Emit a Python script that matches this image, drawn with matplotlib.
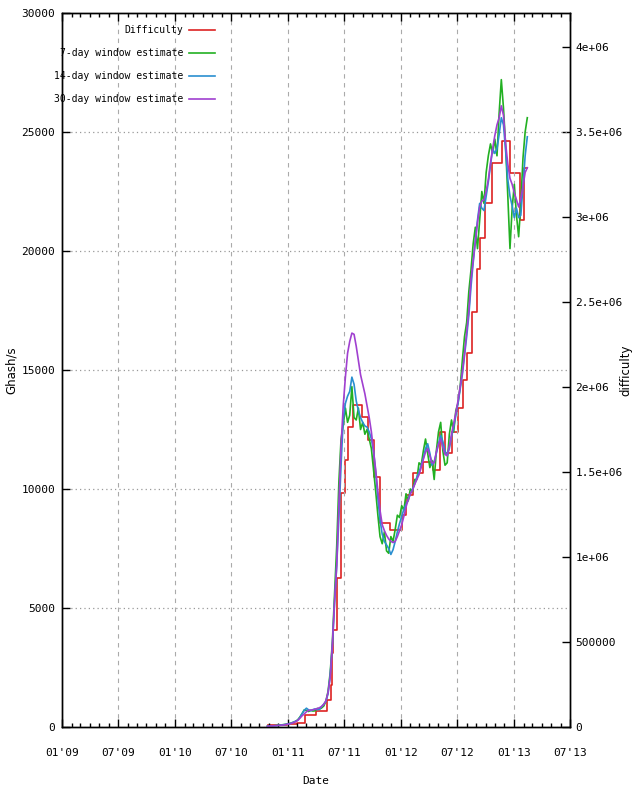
import pandas as pd
import matplotlib
matplotlib.use('Agg')
import matplotlib.pyplot as plt
import matplotlib.dates as mdates

# ---------------- data ----------------
# Difficulty (step function, right axis)
diff_dates = ['2010-10-29', '2010-11-30', '2010-12-29', '2011-01-31', '2011-02-25',
              '2011-04-02', '2011-05-07', '2011-05-20', '2011-05-24', '2011-05-27',
              '2011-06-09', '2011-06-22', '2011-07-05', '2011-07-14', '2011-07-30',
              '2011-08-29', '2011-09-17', '2011-10-06', '2011-10-26', '2011-11-27',
              '2012-01-05', '2012-01-18', '2012-02-09', '2012-03-13', '2012-04-14',
              '2012-05-07', '2012-05-23', '2012-06-14', '2012-07-04', '2012-07-20',
              '2012-08-02', '2012-08-18', '2012-09-03', '2012-09-13', '2012-09-29',
              '2012-10-22', '2012-11-23', '2012-12-19', '2013-01-20', '2013-02-02',
              '2013-02-12']
diff_values = [12000, 14500, 16500, 22000, 68000,
               92000, 160000, 250000, 435000, 570000,
               876000, 1376000, 1568000, 1764000, 1894000,
               1824000, 1688000, 1470000, 1200000, 1159000,
               1247000, 1365000, 1494000, 1558000, 1512000,
               1736000, 1610000, 1736000, 1876000, 2041000,
               2198000, 2443000, 2694000, 2877000, 3083000,
               3318000, 3447000, 3259000, 2982000, 3290000,
               3290000]

# Hash-rate estimates (Ghash/s), weekly samples
est_start = '2010-10-27'
est_7day = [30, 35, 40, 50, 60, 70, 80, 95, 110, 125,
            140, 170, 200, 240, 300, 420, 560, 720, 700, 650,
            700, 670, 680, 780, 750, 800, 880, 1080, 1500, 2300,
            3600, 5600, 7600, 10300, 12100, 12700, 13400, 12800, 13100, 14300,
            13000, 12900, 13400, 12500, 12800, 12300, 12500, 12100, 11700, 10800,
            9900, 8900, 8000, 7700, 8200, 7400, 7300, 8000, 7800, 8300,
            8900, 8800, 9300, 9100, 9800, 9500, 10000, 9900, 10400, 10400,
            11100, 11000, 11600, 12100, 11500, 10900, 11200, 10400, 11600, 12400,
            12800, 11600, 11000, 11100, 12300, 12900, 12400, 13300, 13600, 14300,
            15400, 16400, 17000, 18300, 19200, 20300, 21000, 20100, 21300, 22500,
            22000, 23300, 24000, 24500, 24100, 24700, 24000, 25800, 27200, 26000,
            24400, 22300, 20100, 21800, 22800, 21500, 20600, 22000, 23900, 25000,
            25600]
est_14day = [30, 38, 45, 52, 58, 68, 75, 88, 100, 120,
             140, 160, 200, 240, 290, 400, 560, 700, 790, 720,
             680, 730, 760, 730, 740, 860, 960, 1080, 1400, 2200,
             3400, 5200, 6800, 8800, 11000, 12900, 13600, 13900, 14100, 14700,
             14400, 13700, 13300, 13000, 12800, 12650, 12600, 12400, 12100, 11600,
             10700, 9600, 8700, 8100, 7800, 7650, 7500, 7250, 7450, 7800,
             8200, 8550, 8850, 9150, 9350, 9550, 9800, 10000, 10200, 10500,
             10700, 11000, 11300, 11700, 11900, 11500, 11000, 11150, 11500, 11900,
             12250, 12000, 11600, 11400, 11700, 12200, 12600, 13100, 13600, 14200,
             14800, 15600, 16400, 17300, 18500, 19500, 20400, 21300, 22000, 21800,
             21700, 22300, 22900, 23600, 24300, 24100, 24300, 24900, 25600, 25300,
             24200, 23000, 22300, 21900, 21400, 21800, 21400, 21500, 22700, 24000,
             24800]
est_30day = [30, 35, 45, 50, 55, 65, 72, 80, 95, 115,
             125, 150, 185, 220, 280, 370, 470, 550, 640, 700,
             710, 720, 745, 775, 810, 860, 950, 1100, 1450, 2100,
             3500, 5300, 6800, 9400, 11800, 13500, 14700, 15700, 16200, 16550,
             16500, 16000, 15400, 14800, 14400, 14000, 13500, 13000, 12400, 11600,
             10800, 9900, 9100, 8500, 8250, 8050, 7900, 7800, 7750, 7800,
             8000, 8250, 8500, 8850, 9250, 9550, 9800, 9950, 10200, 10400,
             10600, 10900, 11250, 11550, 11700, 11400, 11100, 11100, 11550, 11900,
             12100, 11750, 11450, 11400, 11800, 12300, 12750, 13200, 13700, 14300,
             14900, 15700, 16600, 17500, 18800, 19600, 20400, 21200, 21850, 22100,
             22150, 22500, 23000, 23700, 24300, 24850, 25300, 25600, 26100, 25700,
             24500, 23650, 23050, 22800, 22450, 22150, 21850, 22200, 22700, 23300,
             23500]
est_dates = pd.date_range(est_start, periods=len(est_7day), freq='7D')

labels = ['Difficulty', '7-day window estimate', '14-day window estimate',
          '30-day window estimate']
colors = ['#dd2222', '#22b022', '#2a8fd0', '#a040d0']

left_ticks = [0, 5000, 10000, 15000, 20000, 25000, 30000]
right_ticks = [0, 500000, 1000000, 1500000, 2000000, 2500000, 3000000,
               3500000, 4000000]
right_labels = ['0', '500000', '1e+06', '1.5e+06', '2e+06', '2.5e+06',
                '3e+06', '3.5e+06', '4e+06']
x_start, x_end = '2009-01-01', '2013-07-01'

# ---------------- figure ----------------
W, H = 634, 795
fig = plt.figure(figsize=(W / 100, H / 100), dpi=100)
L, R, T, B = 62, 570, 13, 727
ax = fig.add_axes([L / W, 1 - B / H, (R - L) / W, (B - T) / H])
ax2 = ax.twinx()
ax.set_zorder(2)
ax.patch.set_visible(False)

mono = 'DejaVu Sans Mono'

h_red, = ax2.plot(pd.to_datetime(diff_dates), diff_values, drawstyle='steps-post',
                  color=colors[0], lw=1.2)
h7, = ax.plot(est_dates, est_7day, color=colors[1], lw=1.2)
h14, = ax.plot(est_dates, est_14day, color=colors[2], lw=1.2)
h30, = ax.plot(est_dates, est_30day, color=colors[3], lw=1.2)

ax.set_xlim(pd.Timestamp(x_start), pd.Timestamp(x_end))
ax.set_ylim(0, 30000)
ax2.set_ylim(0, 4200000)

ax.xaxis.set_major_locator(mdates.MonthLocator(bymonth=[1, 7]))
ax.xaxis.set_minor_locator(mdates.MonthLocator())
ax.xaxis.set_major_formatter(mdates.DateFormatter("%m'%y"))
ax.set_yticks(left_ticks)
ax.set_yticklabels([str(t) for t in left_ticks])
ax2.set_yticks(right_ticks)
ax2.set_yticklabels(right_labels)

ax.tick_params(axis='x', which='major', direction='in', top=True, bottom=True,
               length=6, width=1, pad=15, labelsize=8)
ax.tick_params(axis='x', which='minor', direction='in', top=True, bottom=True,
               length=3, width=1)
ax.tick_params(axis='y', direction='in', length=6, width=1, pad=5, labelsize=8)
ax2.tick_params(axis='y', direction='in', length=6, width=1, pad=4, labelsize=8)
for lab in ax.get_xticklabels() + ax.get_yticklabels() + ax2.get_yticklabels():
    lab.set_family(mono)

ax.xaxis.grid(True, which='major', linestyle=(0, (4, 4)), color='#aaaaaa', lw=0.8)
ax.yaxis.grid(True, which='major', linestyle=(0, (1, 2.5)), color='#999999', lw=0.9)

for a in (ax, ax2):
    for s in a.spines.values():
        s.set_color('black')
        s.set_linewidth(1.0)

ax.set_xlabel('Date', family=mono, fontsize=8)
ax.xaxis.set_label_coords(0.5, -(776 - B) / (B - T))
ax.set_ylabel('Ghash/s', family='DejaVu Sans', fontsize=8.5)
ax.yaxis.set_label_coords(-(L - 18) / (R - L), 0.5)
ax2.set_ylabel('difficulty', family='DejaVu Sans', fontsize=8.5)
ax2.yaxis.set_label_coords((619 - L) / (R - L), 0.5)

leg = ax.legend([h_red, h7, h14, h30], labels, loc='upper right',
                bbox_to_anchor=((216 - L) / (R - L), (B - 24) / (B - T)),
                markerfirst=False, frameon=False, prop={'family': mono, 'size': 7},
                handlelength=2.7, handletextpad=0.6, labelspacing=1.35,
                borderpad=0.1, borderaxespad=0)

fig.savefig('out.png', dpi=100, facecolor='white')
